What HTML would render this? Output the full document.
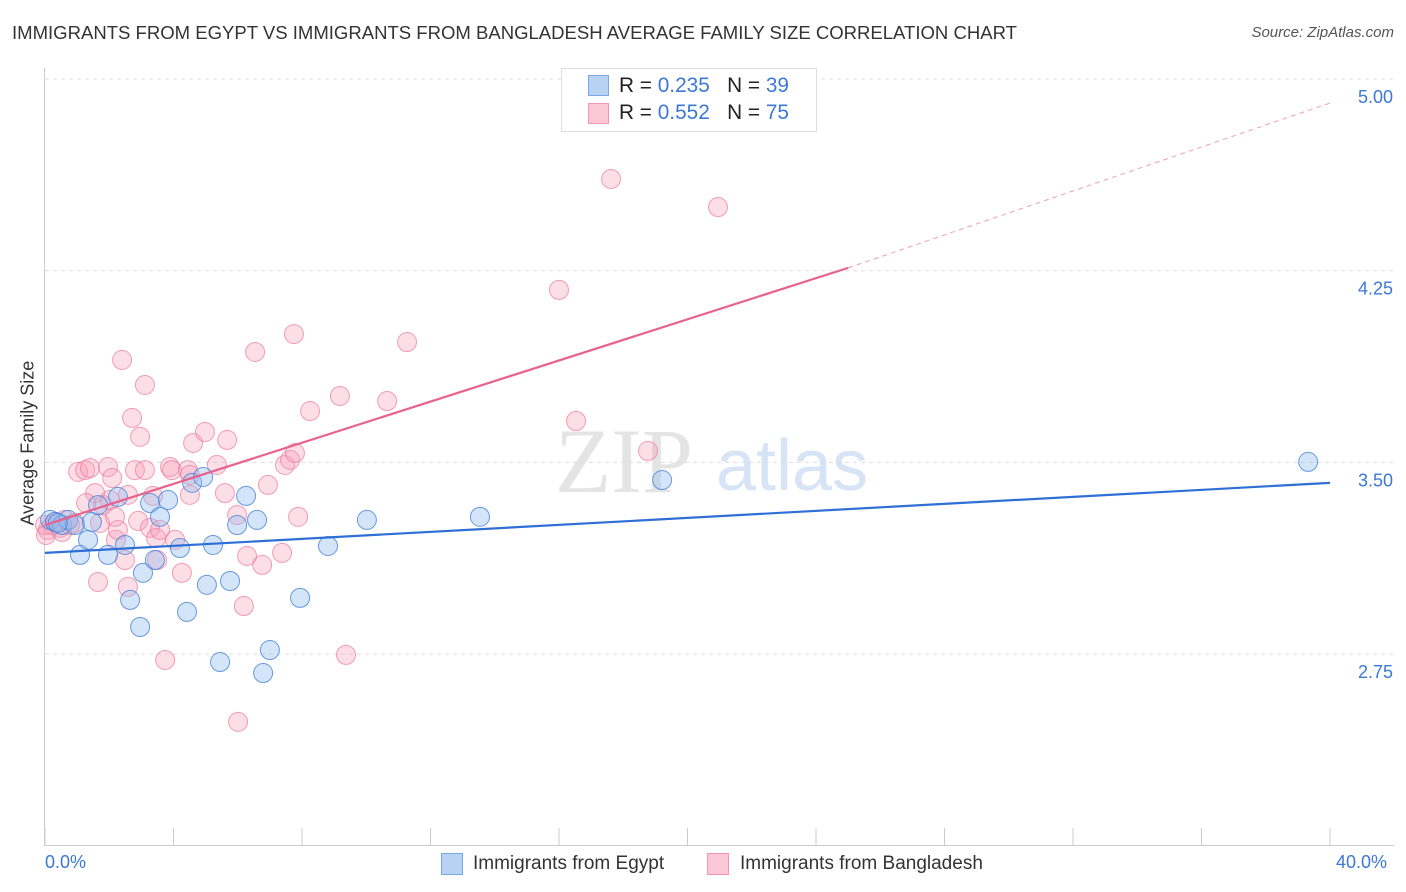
<!DOCTYPE html>
<html><head><meta charset="utf-8"><style>
body{margin:0;background:#fff;font-family:"Liberation Sans",sans-serif;}
#wrap{position:relative;width:1406px;height:892px;overflow:hidden;}
.t{position:absolute;white-space:nowrap;}
</style></head><body>
<div id="wrap">
<div class="t" style="left:12px;top:22px;font-size:18.55px;color:#333;">IMMIGRANTS FROM EGYPT VS IMMIGRANTS FROM BANGLADESH AVERAGE FAMILY SIZE CORRELATION CHART</div>
<div class="t" style="right:12px;top:24px;font-size:15px;color:#555;font-style:italic;">Source: ZipAtlas.com</div>
<svg id="plot" width="1406" height="892" style="position:absolute;left:0;top:0"></svg>
<div class="t" style="left:561px;top:68px;width:254px;height:62px;border:1px solid #ddd;background:#fff;"></div>
<div class="t" style="left:588px;top:75px;width:19px;height:19px;background:#b8d2f4;border:1px solid #7aa8e6;"></div>
<div class="t" style="left:588px;top:103px;width:19px;height:19px;background:#fbc6d6;border:1px solid #f197b3;"></div>
<div class="t" style="left:619px;top:74px;font-size:20.8px;color:#222;">R = <span style="color:#3b78d8">0.235</span>&nbsp;&nbsp;&nbsp;N = <span style="color:#3b78d8">39</span></div>
<div class="t" style="left:619px;top:101px;font-size:20.8px;color:#222;">R = <span style="color:#3b78d8">0.552</span>&nbsp;&nbsp;&nbsp;N = <span style="color:#3b78d8">75</span></div>
<div class="t" style="left:-42px;top:445px;font-size:18px;color:#333;transform:rotate(-90deg);transform-origin:center;width:140px;text-align:center;">Average Family Size</div>
<div class="t" style="left:45px;top:852px;font-size:18px;color:#3b78d8;">0.0%</div>
<div class="t" style="left:1336px;top:852px;font-size:18px;color:#3b78d8;">40.0%</div>
<div class="t" style="left:441px;top:853px;width:20px;height:20px;background:#b8d2f4;border:1px solid #7aa8e6;"></div>
<div class="t" style="left:473px;top:853px;font-size:19px;color:#333;">Immigrants from Egypt</div>
<div class="t" style="left:707px;top:853px;width:20px;height:20px;background:#fbc6d6;border:1px solid #f197b3;"></div>
<div class="t" style="left:740px;top:853px;font-size:19px;color:#333;">Immigrants from Bangladesh</div>
</div>
<script>
const yTicks=[5.00,4.25,3.50,2.75];
const yTickLabels=["5.00","4.25","3.50","2.75"];
const xTicks=[0,4,8,12,16,20,24,28,32,36,40];
const egyptX=[0.16,0.31,0.53,0.72,0.93,1.09,1.34,1.46,1.65,1.96,2.27,2.49,2.65,2.96,3.05,3.27,3.42,3.58,3.83,4.20,4.42,4.58,4.92,5.04,5.23,5.45,5.76,5.98,6.26,6.60,6.79,7.00,7.94,8.81,10.02,13.54,19.21,39.32,0.40];
const egyptY=[3.275,3.267,3.255,3.275,3.255,3.138,3.197,3.267,3.333,3.138,3.365,3.177,2.962,2.856,3.068,3.341,3.118,3.287,3.353,3.165,2.915,3.420,3.443,3.021,3.177,2.719,3.036,3.255,3.369,3.275,2.676,2.766,2.970,3.173,3.275,3.287,3.431,3.502,3.263];
const bangX=[0.09,0.22,0.34,0.47,0.62,0.78,0.93,1.03,1.25,1.40,1.56,1.65,1.71,1.81,1.96,2.09,2.21,2.27,2.40,2.49,2.58,2.58,2.71,2.80,2.90,2.96,3.11,3.11,3.27,3.36,3.46,3.58,3.74,3.89,3.95,4.05,4.26,4.45,4.51,4.61,4.98,5.35,5.60,5.67,5.98,6.01,6.19,6.29,6.54,6.76,6.94,7.38,7.47,7.63,7.75,7.78,7.88,8.25,9.18,9.37,10.65,11.27,16.00,16.53,17.62,18.77,20.95,0.00,0.03,0.53,2.02,3.49,2.18,4.51,1.28];
const bangY=[3.236,3.255,3.267,3.244,3.275,3.255,3.263,3.463,3.470,3.478,3.380,3.032,3.263,3.333,3.482,3.439,3.197,3.236,3.901,3.118,3.013,3.373,3.674,3.470,3.271,3.600,3.803,3.470,3.244,3.369,3.204,3.236,2.727,3.482,3.470,3.197,3.068,3.470,3.373,3.576,3.619,3.490,3.380,3.588,3.294,2.485,2.938,3.134,3.932,3.099,3.412,3.146,3.490,3.510,4.002,3.537,3.287,3.701,3.760,2.747,3.740,3.971,4.175,3.662,4.609,3.545,4.499,3.255,3.216,3.228,3.353,3.118,3.287,3.451,3.341];
const egyptTrendX=[0,40], egyptTrendY=[3.146,3.420];
const bangTrendX=[0,25.0], bangTrendY=[3.255,4.261];
const bangDashX=[25.0,40], bangDashY=[4.261,4.906];

const X=v=>45+v/40*1285;
const Y=v=>79+(5-v)/0.75*191.7;
const svg=document.getElementById('plot');
const NS='http://www.w3.org/2000/svg';
function mk(tag,attrs){const e=document.createElementNS(NS,tag);for(const k in attrs)e.setAttribute(k,attrs[k]);svg.appendChild(e);return e;}

let wm=mk('text',{x:555,y:492,'font-size':92,'font-family':'Liberation Serif,serif',fill:'#e4e4e4'});wm.textContent='ZIP';


let wm2=mk('text',{x:716,y:490,'font-size':72,'font-family':'Liberation Sans,sans-serif',fill:'#d6e4f5'});wm2.textContent='atlas';



yTicks.forEach((v,i)=>{
  const g=mk('line',{x1:45,x2:1394,y1:Y(v),y2:Y(v),stroke:'#ddd','stroke-dasharray':'4,4'});
  
  
  const t=mk('text',{x:1393,y:Y(v)+24,'text-anchor':'end','font-size':18,fill:'#3b78d8','font-family':'Liberation Sans,sans-serif'});
  t.textContent=yTickLabels[i];
  
  
});
const ax=mk('line',{x1:44.5,x2:44.5,y1:68,y2:845,stroke:'#ccc'});


const bx=mk('line',{x1:44,x2:1394,y1:845.5,y2:845.5,stroke:'#ccc'});


xTicks.forEach(v=>{
  const l=mk('line',{x1:X(v),x2:X(v),y1:828,y2:845,stroke:'#ccc'});
  
  
});

bangX.forEach((v,i)=>{
  const c=mk('circle',{cx:X(v),cy:Y(bangY[i]),r:9.5,fill:'rgba(246,160,186,0.35)',stroke:'rgba(236,120,155,0.7)','stroke-width':1});
  
  
});
egyptX.forEach((v,i)=>{
  const c=mk('circle',{cx:X(v),cy:Y(egyptY[i]),r:9.5,fill:'rgba(150,190,240,0.4)',stroke:'rgba(70,130,215,0.8)','stroke-width':1});
  
  
});
const t1=mk('line',{x1:X(egyptTrendX[0]),y1:Y(egyptTrendY[0]),x2:X(egyptTrendX[1]),y2:Y(egyptTrendY[1]),stroke:'#2f6fd6','stroke-width':2.2});


const t2=mk('line',{x1:X(bangTrendX[0]),y1:Y(bangTrendY[0]),x2:X(bangTrendX[1]),y2:Y(bangTrendY[1]),stroke:'#e8628c','stroke-width':2.2});


const t3=mk('line',{x1:X(bangDashX[0]),y1:Y(bangDashY[0]),x2:X(bangDashX[1]),y2:Y(bangDashY[1]),stroke:'#f0a0b8','stroke-width':1,'stroke-dasharray':'5,4'});


</script>
</body></html>
